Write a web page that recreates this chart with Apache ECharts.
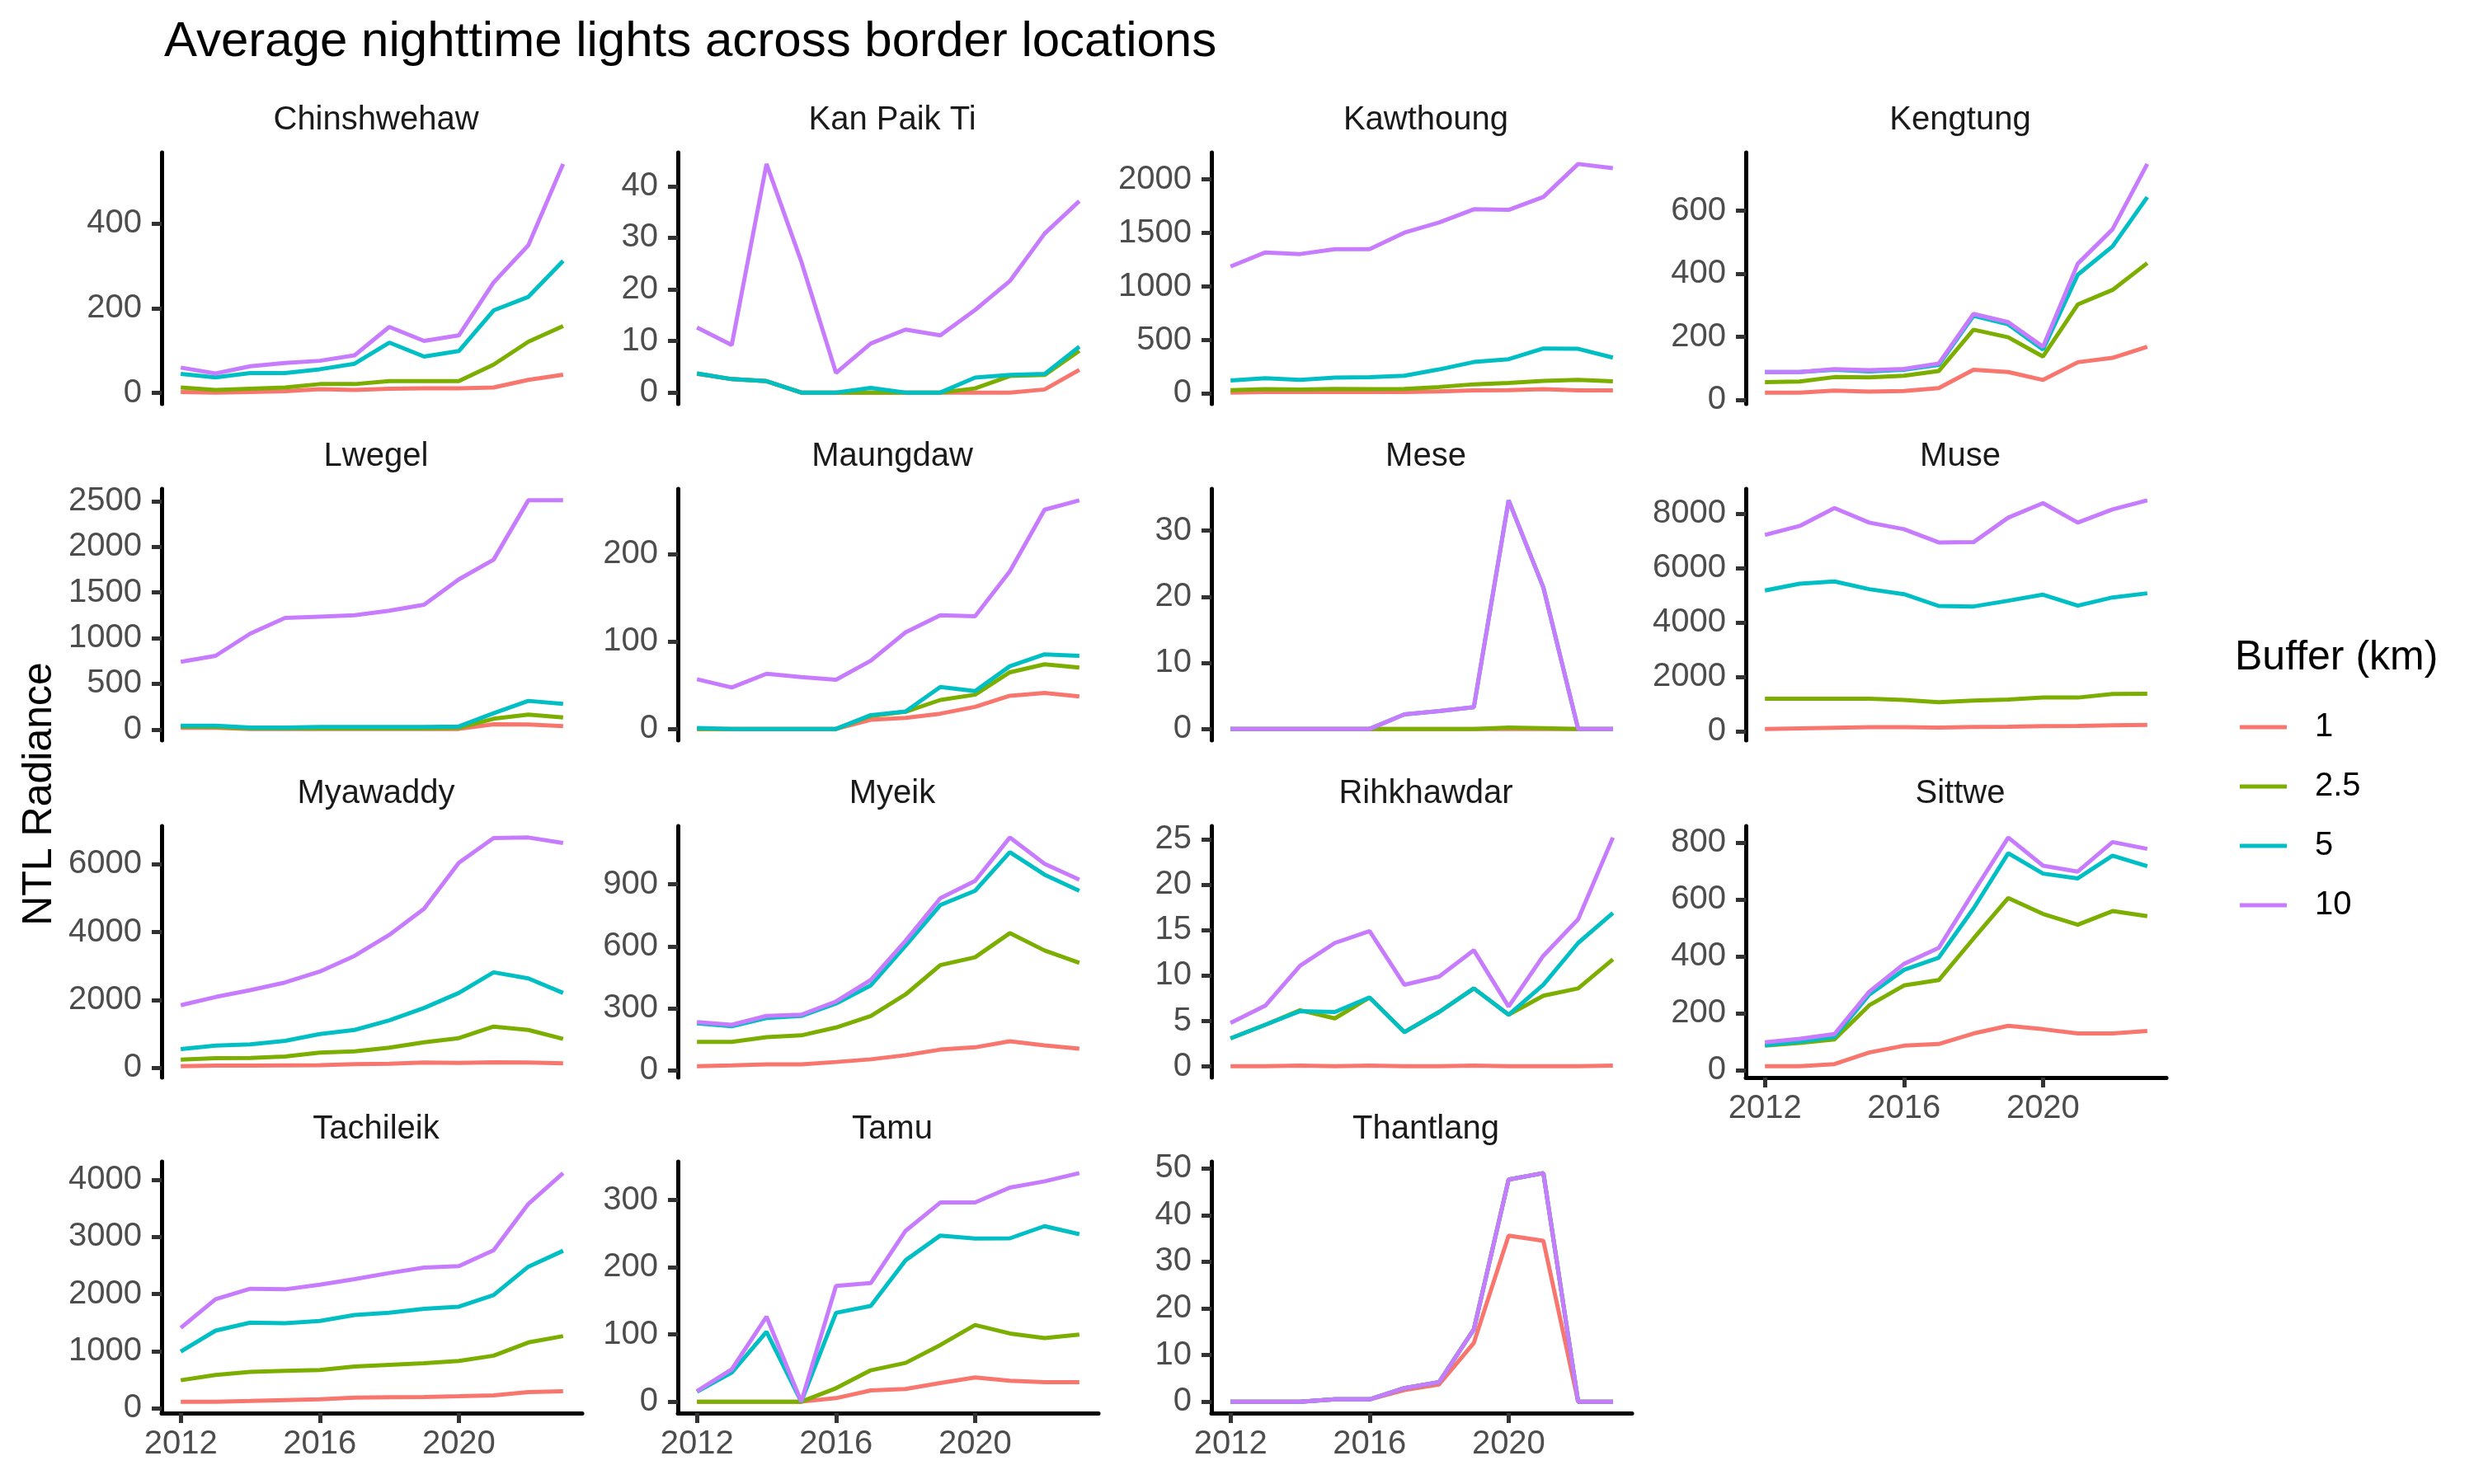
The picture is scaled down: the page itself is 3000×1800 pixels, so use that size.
<!DOCTYPE html>
<html>
<head>
<meta charset="utf-8">
<script src="https://cdn.jsdelivr.net/npm/echarts@6/dist/echarts.min.js"></script>
<style>
html,body{margin:0;padding:0;background:#fff}
#chart{width:3000px;height:1800px}
</style>
</head>
<body>
<div id="chart"></div>
<script>
// values, order of each panel: buffer 1, 2.5, 5, 10 km
const years = [2012,2013,2014,2015,2016,2017,2018,2019,2020,2021,2022,2023]
const buffers = ['1','2.5','5','10']
const xTicks = [2012,2016,2020]

const chinshwehaw = [
  [2,1,2,4,9,7,10,11,11,13,31,43],
  [13,7,10,13,21,21,28,28,28,67,121,158],
  [45,37,47,47,56,69,119,86,99,195,227,312],
  [60,46,63,71,76,89,156,123,136,261,349,541]
]
const kanPaikTi = [
  [3.6,2.6,2.2,0,0,0,0,0,0,0,0.6,4.4],
  [3.7,2.6,2.2,0,0,0,0,0,0.8,3.2,3.4,8.1],
  [3.7,2.6,2.2,0,0,0.9,0,0,2.9,3.4,3.6,8.9],
  [12.6,9.2,44.3,25.4,3.8,9.5,12.2,11.1,16,21.6,30.8,37.1]
]
const kawthoung = [
  [10,15,15,15,15,15,20,31,33,41,31,31],
  [33,41,38,44,41,44,62,87,100,118,128,115],
  [123,144,128,149,154,167,226,295,321,421,418,336],
  [1187,1318,1303,1349,1349,1503,1597,1721,1715,1836,2144,2105]
]
const kengtung = [
  [24,24,30,27,29,38,96,89,64,120,134,169],
  [57,59,73,72,77,92,223,199,138,303,349,434],
  [89,89,96,91,96,112,267,240,160,397,487,643],
  [89,89,98,95,99,116,273,247,169,432,541,748]
]
const lwegel = [
  [18,18,6,6,6,6,6,6,6,57,54,36],
  [33,27,12,12,12,12,12,12,18,117,162,132],
  [42,42,21,21,27,27,27,27,33,177,313,280],
  [740,806,1050,1221,1236,1251,1300,1366,1643,1859,2509,2509]
]
const maungdaw = [
  [0,0,0,0,0,10.4,12.6,17.4,25.2,37.9,41,37.2],
  [0,0,0,0,0,14.8,19.6,33.1,39.1,64.7,73.8,70],
  [1,0,0,0,0,15.8,19.9,48,43.2,71.6,85.2,83.6],
  [56.8,47.3,63,59.3,56.2,78,110.4,130,128.7,180,250.5,261.2]
]
const mese = [
  [0,0,0,0,0,0,0,0,0,0,0,0],
  [0,0,0,0,0,0,0,0,0.2,0.1,0,0],
  [0,0,0,0,0,2.2,2.7,3.3,34.6,21.4,0,0],
  [0,0,0,0,0,2.2,2.7,3.3,34.6,21.4,0,0]
]
const muse = [
  [91,111,131,152,152,141,162,172,192,202,222,242],
  [1202,1202,1202,1202,1152,1071,1131,1172,1242,1242,1374,1384],
  [5172,5424,5505,5222,5040,4606,4586,4798,5020,4616,4919,5071],
  [7212,7545,8200,7667,7424,6939,6949,7848,8384,7667,8152,8485]
]
const myawaddy = [
  [56,73,73,77,81,113,129,161,153,169,161,137],
  [250,290,298,339,452,492,597,758,879,1218,1121,855],
  [556,661,694,798,1000,1121,1403,1766,2210,2815,2637,2210],
  [1847,2089,2290,2516,2839,3298,3919,4685,6040,6766,6782,6621]
]
const myeik = [
  [20,24,29,29,40,53,73,100,111,140,120,104],
  [137,137,160,169,207,263,367,509,547,664,580,520],
  [227,213,253,263,323,411,603,800,869,1056,947,869],
  [233,220,263,269,333,437,627,833,917,1127,1000,923]
]
const rihkhawdar = [
  [0.05,0.05,0.1,0.05,0.1,0.05,0.05,0.1,0.05,0.05,0.05,0.1],
  [3.1,4.6,6.2,5.3,7.6,3.8,6.0,8.6,5.7,7.8,8.6,11.8],
  [3.1,4.6,6.1,6.0,7.6,3.8,6.0,8.6,5.7,9.0,13.6,16.9],
  [4.8,6.7,11.1,13.6,14.9,9.0,9.9,12.8,6.6,12.2,16.2,25.2]
]
const sittwe = [
  [14,14,21,62,86,92,129,156,144,129,129,138],
  [86,96,108,228,298,317,463,606,550,512,560,542],
  [88,100,117,266,353,396,569,764,692,675,755,718],
  [98,110,127,276,374,430,627,819,720,699,803,779]
]
const tachileik = [
  [116,116,130,145,159,188,193,198,212,227,285,299],
  [492,584,637,656,671,733,762,791,830,921,1153,1264],
  [994,1360,1500,1490,1529,1635,1674,1741,1780,1983,2480,2759],
  [1409,1910,2094,2084,2166,2263,2369,2465,2489,2769,3579,4120]
]
const tamu = [
  [0,0,0,0,5.3,16.8,18.8,27.8,36,31.1,29.1,29.1],
  [0,0,0,0,20,46.7,57.7,84.3,114.2,101.5,94.6,99.9],
  [14.7,43.4,104,0,132.2,142.4,210.4,247.2,242.7,243.1,261.2,249.3],
  [15.6,48.3,126.5,0,172.3,176.4,254.2,296.4,296.4,318.5,327.9,340.2]
]
const thantlang = [
  [0,0,0,0.5,0.5,2.5,3.7,12.6,35.6,34.5,0,0],
  [0,0,0,0.5,0.5,2.9,4.2,15.5,47.6,49,0,0],
  [0,0,0,0.5,0.5,2.9,4.2,15.5,47.6,49,0,0],
  [0,0,0,0.5,0.5,2.9,4.2,15.5,47.6,49,0,0]
]

const locations = ['Chinshwehaw','Kan Paik Ti','Kawthoung','Kengtung','Lwegel','Maungdaw','Mese','Muse',
  'Myawaddy','Myeik','Rihkhawdar','Sittwe','Tachileik','Tamu','Thantlang']
const panelData = [chinshwehaw,kanPaikTi,kawthoung,kengtung,lwegel,maungdaw,mese,muse,
  myawaddy,myeik,rihkhawdar,sittwe,tachileik,tamu,thantlang]
const yTicks = [
  [0,200,400],[0,10,20,30,40],[0,500,1000,1500,2000],[0,200,400,600],
  [0,500,1000,1500,2000,2500],[0,100,200],[0,10,20,30],[0,2000,4000,6000,8000],
  [0,2000,4000,6000],[0,300,600,900],[0,5,10,15,20,25],[0,200,400,600,800],
  [0,1000,2000,3000,4000],[0,100,200,300],[0,10,20,30,40,50]
]

const colors=['#F8766D','#7CAE00','#00BFC4','#C77CFF']
const font='Liberation Sans'
const colLeft=[196,822,1469,2117]
const rowTop=[185,593,1002,1409]
const panelW=510, panelH=305

const chart=echarts.init(document.getElementById('chart'))

let grids=[], xAxes=[], yAxes=[], series=[]
let titles=[
  {text:'Average nighttime lights across border locations',left:194,top:16,
    textStyle:{fontFamily:font,fontSize:60,fontWeight:'normal',color:'#000'}},
  {text:'Buffer (km)',left:2705,top:768,
    textStyle:{fontFamily:font,fontSize:50,fontWeight:'normal',color:'#000'}}
]

panelData.forEach((d,i)=>{
  let row=Math.floor(i/4), col=i%4
  let left=colLeft[col], top=rowTop[row]
  grids.push({left:left,top:top,width:panelW,height:panelH,containLabel:false})

  // ggplot style 5% padding around the data range
  let all=[].concat(...d)
  let lo=Math.min(...all), hi=Math.max(...all)
  let pad=(hi-lo)*0.05
  let hasX=i+4>=locations.length

  xAxes.push({
    type:'value',gridIndex:i,min:2011.45,max:2023.55,
    splitLine:{show:false},
    axisLine:{show:hasX,onZero:false,lineStyle:{color:'#000',width:5}},
    axisTick:{show:hasX,length:12,customValues:xTicks,lineStyle:{color:'#333',width:5}},
    axisLabel:{show:hasX,customValues:xTicks,margin:18,color:'#4d4d4d',fontSize:40,fontFamily:font,
      formatter:v=>String(v)}
  })
  yAxes.push({
    type:'value',gridIndex:i,min:lo-pad,max:hi+pad,
    splitLine:{show:false},
    axisLine:{show:true,onZero:false,lineStyle:{color:'#000',width:5}},
    axisTick:{show:true,length:12,customValues:yTicks[i],lineStyle:{color:'#333',width:5}},
    axisLabel:{customValues:yTicks[i],margin:24,color:'#4d4d4d',fontSize:40,fontFamily:font,
      formatter:v=>String(v)}
  })
  titles.push({
    text:locations[i],left:left+panelW/2,top:top-64,textAlign:'center',
    textStyle:{fontFamily:font,fontSize:40,fontWeight:'normal',color:'#1a1a1a'}
  })
  d.forEach((vals,j)=>{
    series.push({
      name:buffers[j],type:'line',xAxisIndex:i,yAxisIndex:i,
      data:years.map((y,k)=>[y,vals[k]]),
      symbol:'none',z:2+j,
      lineStyle:{width:5,color:colors[j]},
      itemStyle:{color:colors[j]}
    })
  })
})

chart.setOption({
  animation:false,
  backgroundColor:'#fff',
  title:titles,
  grid:grids,
  xAxis:xAxes,
  yAxis:yAxes,
  legend:{
    orient:'vertical',left:2711,top:841,
    itemWidth:57,itemHeight:5,icon:'rect',itemGap:0,
    data:buffers,selectedMode:false,
    textStyle:{fontFamily:font,fontSize:40,color:'#000',lineHeight:72,padding:[0,0,0,29]}
  },
  graphic:[{
    type:'text',x:48,y:963,rotation:Math.PI/2,
    style:{text:'NTL Radiance',font:'50px "Liberation Sans"',fill:'#000',
      textAlign:'center',textVerticalAlign:'middle'}
  }],
  series:series
})
</script>
</body>
</html>
